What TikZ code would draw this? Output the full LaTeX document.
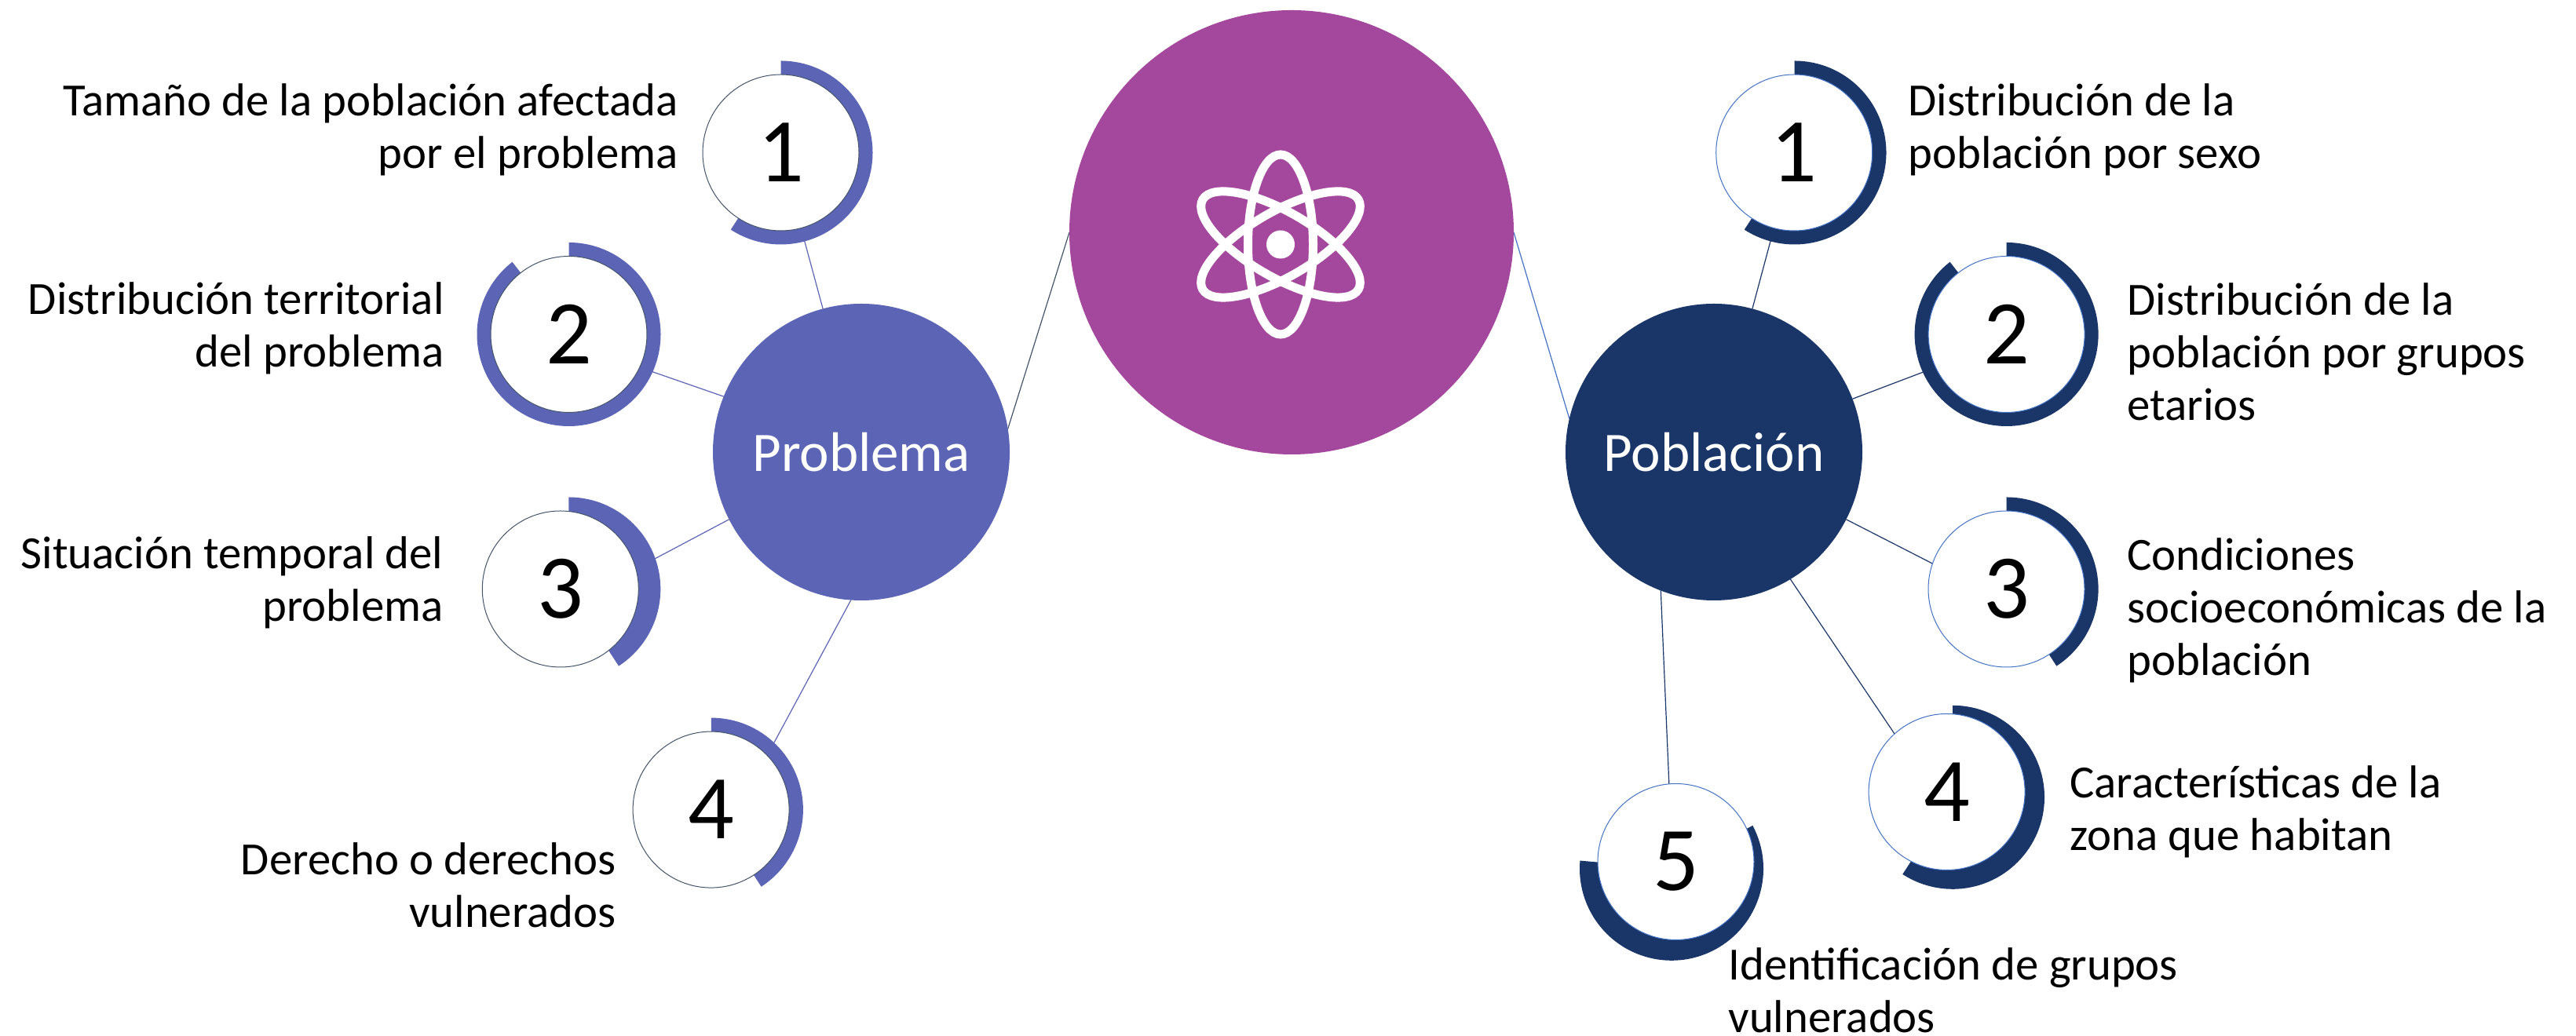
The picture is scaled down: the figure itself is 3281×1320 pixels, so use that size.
\documentclass[tikz,border=0pt]{standalone}
\usepackage{fontspec}
\setmainfont{Carlito}
\pgfdeclarelayer{back}
\pgfsetlayers{back,main}
\definecolor{cPurple}{HTML}{A4489E}
\definecolor{cProb}{HTML}{5C64B6}
\definecolor{cPob}{HTML}{1A3668}
\definecolor{cEdgeL}{HTML}{44546A}
\definecolor{cEdgeR}{HTML}{4472C4}
\tikzset{
  hub/.style={circle,inner sep=0pt,outer sep=0pt,minimum size=189pt,text=white,font=\fontsize{35.5}{42}\selectfont,text height=25pt,text depth=0pt},
  numL/.style={circle,fill=white,draw=cEdgeL,line width=0.5pt,inner sep=0pt,outer sep=0pt,minimum size=99.5pt,font=\fontsize{58}{60}\selectfont},
  numR/.style={numL,draw=cEdgeR},
  lblL/.style={anchor=east,align=right,inner sep=0pt,font=\fontsize{29.4}{33.5}\selectfont},
  lblR/.style={anchor=west,align=left,inner sep=0pt,font=\fontsize{29.4}{33.5}\selectfont},
  linkL/.style={draw=cProb,line width=0.6pt},
  linkR/.style={draw=cPob,line width=0.6pt},
  atomline/.style={draw=white,line width=5.5pt}
}
\newcommand{\ringarc}[5]{% colour, cx, cy, start, end
  \fill[#1] ($(#2,#3)+(#4:117)$) arc[start angle=#4,end angle=#5,radius=117]
    -- ($(#2,#3)+(#5:80)$) arc[start angle=#5,end angle=#4,radius=80] -- cycle;
}
\usetikzlibrary{calc}
\begin{document}
\begin{tikzpicture}[x=0.5pt,y=0.5pt]
\useasboundingbox (0,0) rectangle (3281,1320);
% hubs
\node[hub,fill=cPurple,minimum size=283pt] (central) at (1645,1024) {};
\node[hub,fill=cProb] (problema) at (1097,744) {Problema};
\node[hub,fill=cPob] (poblacion) at (2183,744) {Población};
% atom icon
\draw[atomline] (1631,1008.5) ellipse[x radius=41.5,y radius=114.5];
\draw[atomline,rotate around={30:(1631,1008.5)}] (1631,1008.5) ellipse[x radius=114.5,y radius=41.5];
\draw[atomline,rotate around={-30:(1631,1008.5)}] (1631,1008.5) ellipse[x radius=114.5,y radius=41.5];
\fill[white] (1631,1008.5) circle[radius=18];
% numbered circles
\node[numL] (l1) at (994.5,1125.5) {1};
\node[numL] (l2) at (724.5,894) {2};
\node[numL] (l3) at (713.8,569.5) {3};
\node[numL] (l4) at (905.6,288.4) {4};
\node[numR] (r1) at (2285.2,1125.5) {1};
\node[numR] (r2) at (2555.6,894) {2};
\node[numR] (r3) at (2555.5,569.5) {3};
\node[numR] (r4) at (2479.6,311) {4};
\node[numR] (r5) at (2134.5,222) {5};
% connectors and rings, below the circles
\begin{pgfonlayer}{back}
\draw[linkL] (problema.105) -- (l1.-75);
\draw[linkL] (problema.158.9) -- (l2.-25.7);
\draw[linkL] (problema.207.6) -- (l3.15.4);
\draw[linkL] (problema.266.8) -- (l4.44.8);
\draw[draw=cEdgeL,line width=0.6pt] (problema.9.7) -- (central.180);
\draw[draw=cEdgeR,line width=0.6pt] (poblacion.167.3) -- (central.0);
\draw[linkR] (poblacion.75.1) -- (r1.-105);
\draw[linkR] (poblacion.21) -- (r2.205.7);
\draw[linkR] (poblacion.-27.8) -- (r3.161.5);
\draw[linkR] (poblacion.-59) -- (r4.132.5);
\draw[linkR] (poblacion.249.2) -- (r5.95.7);
\ringarc{cProb}{994.5}{1125.5}{90}{-123}
\ringarc{cProb}{724.5}{894}{90}{-232}
\ringarc{cProb}{724.3}{569.5}{90}{-57}
\ringarc{cProb}{905.9}{288.4}{90}{-57}
\ringarc{cPob}{2285.5}{1125.5}{90}{-123}
\ringarc{cPob}{2555.6}{894}{90}{-232}
\ringarc{cPob}{2555.6}{569.5}{90}{-57}
\ringarc{cPob}{2487}{304.2}{90}{-123}
\ringarc{cPob}{2129}{213.2}{28}{-185}
\end{pgfonlayer}
% labels
\node[lblL] (tl1) at (864,1155) {Tamaño de la población afectada\\por el problema};
\node[lblL] (tl2) at (566,902) {Distribución territorial\\del problema};
\node[lblL] (tl3) at (565,578) {Situación temporal del\\problema};
\node[lblL] (tl4) at (785,192) {Derecho o derechos\\vulnerados};
\node[lblR] (tr1) at (2430,1155) {Distribución de la\\población por sexo};
\node[lblR] (tr2) at (2709,872) {Distribución de la\\población por grupos\\etarios};
\node[lblR] (tr3) at (2709,542) {Condiciones\\socioeconómicas de la\\población};
\node[lblR] (tr4) at (2636,286) {Características de la\\zona que habitan};
\node[lblR] (tr5) at (2201,58) {Identificación de grupos\\vulnerados};
\end{tikzpicture}
\end{document}
